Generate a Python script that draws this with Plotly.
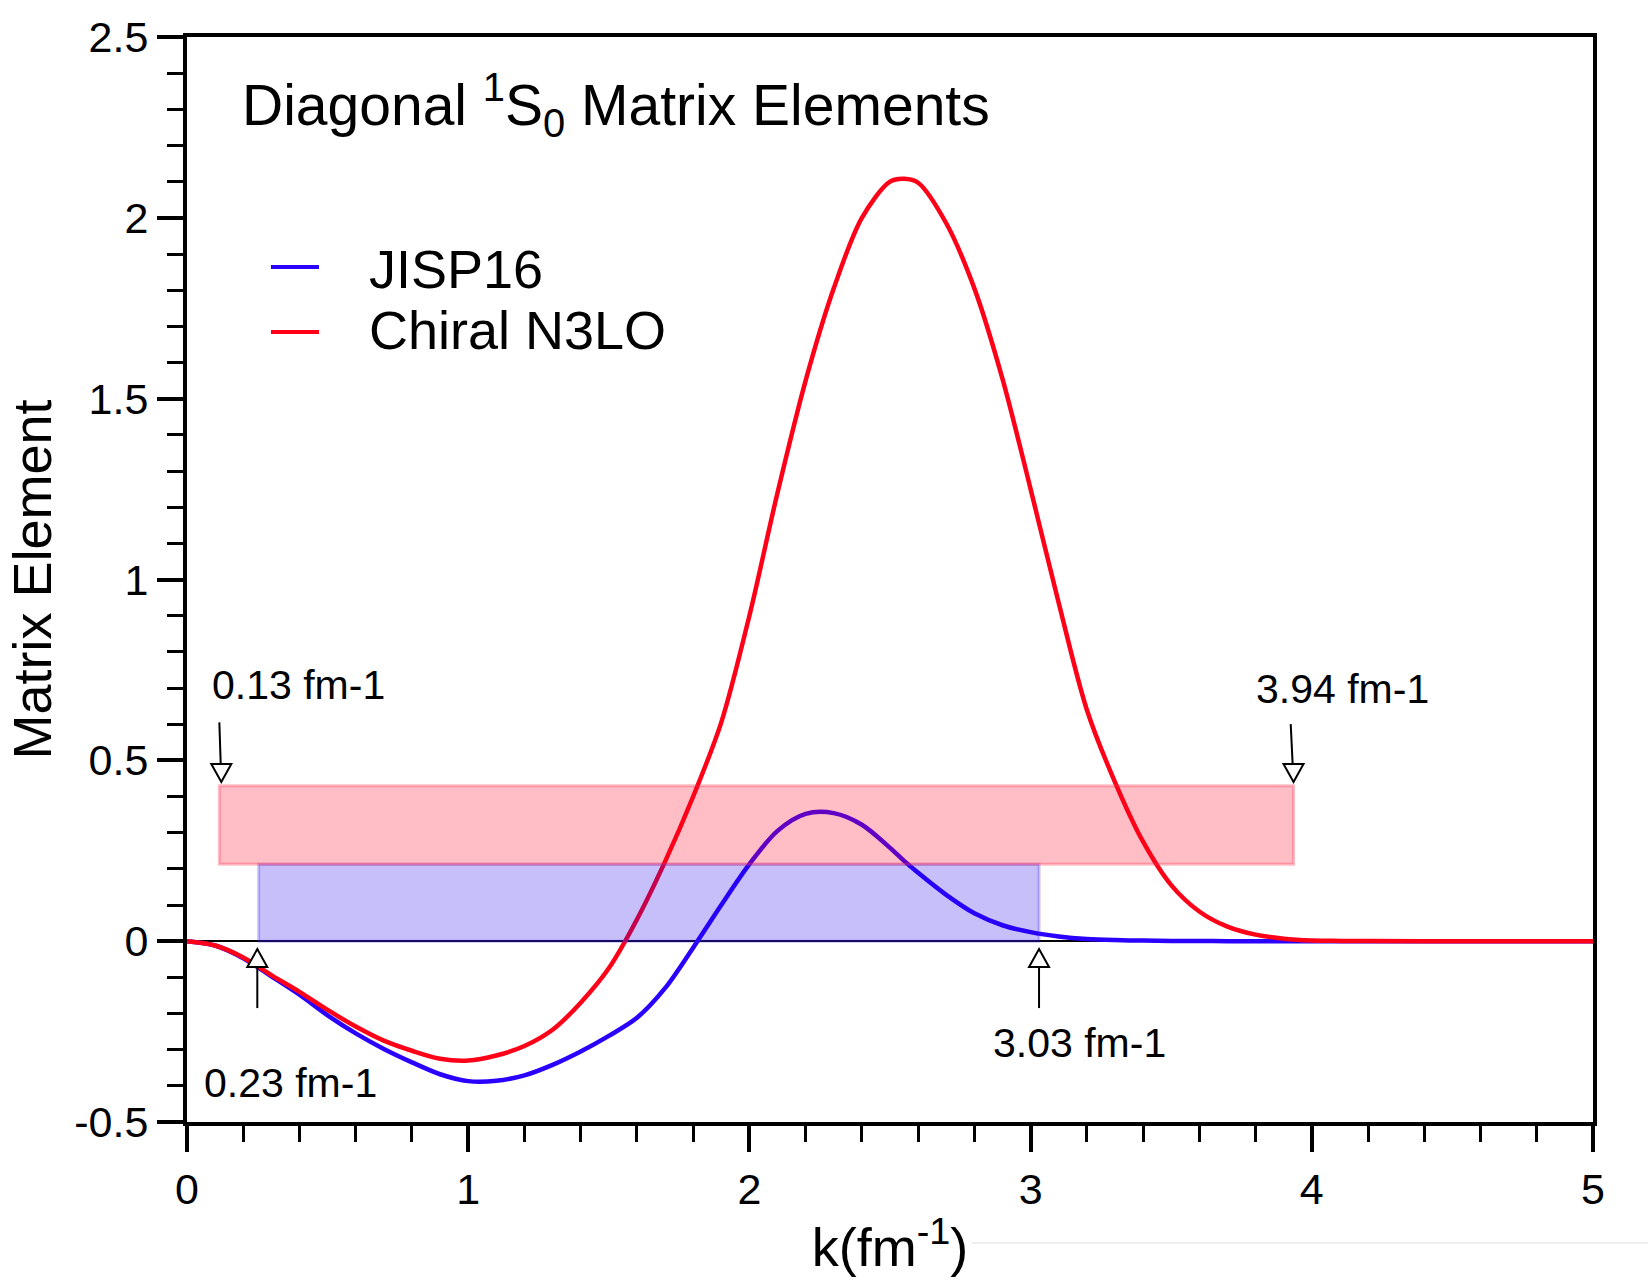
import plotly.graph_objects as go

# ---------------- data ----------------
k_vals = [0.0, 0.1, 0.2, 0.3, 0.4, 0.5, 0.6, 0.7, 0.8, 0.9, 1.0, 1.1, 1.2, 1.3, 1.4,
          1.5, 1.6, 1.7, 1.8, 1.9, 2.0, 2.1, 2.2, 2.3, 2.4, 2.5, 2.55, 2.6, 2.7, 2.8,
          2.9, 3.0, 3.1, 3.2, 3.3, 3.4, 3.5, 3.6, 3.7, 3.8, 3.9, 4.0, 4.1, 4.2, 4.5, 5.0]

jisp16 = [0.0, -0.012, -0.047, -0.097, -0.148, -0.205, -0.255, -0.298, -0.335, -0.368,
          -0.387, -0.386, -0.371, -0.342, -0.305, -0.262, -0.212, -0.130, -0.018, 0.100,
          0.213, 0.305, 0.352, 0.354, 0.322, 0.258, 0.222, 0.189, 0.128, 0.077,
          0.044, 0.025, 0.013, 0.006, 0.003, 0.0015, 0.0007, 0.0003, 0.0001, 0.0, 0.0,
          0.0, 0.0, 0.0, 0.0, 0.0]

chiral_n3lo = [0.0, -0.012, -0.045, -0.094, -0.140, -0.190, -0.236, -0.275, -0.303, -0.325,
               -0.330, -0.316, -0.290, -0.245, -0.170, -0.075, 0.060, 0.220, 0.400, 0.605,
               0.900, 1.240, 1.550, 1.805, 2.000, 2.100, 2.108, 2.097, 1.985, 1.805,
               1.555, 1.250, 0.935, 0.640, 0.440, 0.275, 0.155, 0.082, 0.040, 0.018, 0.007,
               0.002, 0.0007, 0.0002, 0.0, 0.0]

series_names = ["JISP16", "Chiral N3LO"]
series_colors = ["#2a00ff", "#ff0018"]

# range boxes: [k_start, k_end, v_bottom, v_top]
box_k0 = [0.255, 0.115]
box_k1 = [3.03, 3.935]
box_v0 = [0.0, 0.213]
box_v1 = [0.213, 0.43]
box_fill = ["rgba(30,0,230,0.25)", "rgba(255,0,30,0.26)"]
box_line = ["rgba(60,40,255,0.28)", "rgba(255,40,70,0.30)"]

# arrows: tail (k, v) -> tip (k, v)
arrow_tail_k = [0.115, 3.925, 0.25, 3.03]
arrow_tail_v = [0.605, 0.60, -0.185, -0.185]
arrow_tip_k = [0.122, 3.935, 0.25, 3.03]
arrow_tip_v = [0.44, 0.44, -0.022, -0.022]
arrow_dir = [-1, -1, 1, 1]  # -1 = pointing down, 1 = pointing up

label_texts = ["0.13 fm-1", "3.94 fm-1", "0.23 fm-1", "3.03 fm-1"]
label_k = [0.395, 4.11, 0.367, 3.175]
label_v = [0.708, 0.698, -0.392, -0.282]

y_tickvals = [-0.5, 0, 0.5, 1, 1.5, 2, 2.5]
y_ticktext = ["-0.5", "0", "0.5", "1", "1.5", "2", "2.5"]
x_tickvals = [0, 1, 2, 3, 4, 5]
x_ticktext = ["0", "1", "2", "3", "4", "5"]

FONT = "Liberation Sans, Arial, Helvetica, sans-serif"

fig = go.Figure()
for name, vals, col in zip(series_names, [jisp16, chiral_n3lo], series_colors):
    fig.add_trace(go.Scatter(x=k_vals, y=vals, mode="lines", name=name,
                             line=dict(color=col, width=4.5, shape="spline", smoothing=0.9),
                             showlegend=False, hoverinfo="skip"))

shapes = []
for x0, x1, y0, y1, fc, lc in zip(box_k0, box_k1, box_v0, box_v1, box_fill, box_line):
    shapes.append(dict(type="rect", xref="x", yref="y", x0=x0, x1=x1, y0=y0, y1=y1,
                       fillcolor=fc, line=dict(color=lc, width=3), layer="above"))

for tk, tv, hk, hv, d in zip(arrow_tail_k, arrow_tail_v, arrow_tip_k, arrow_tip_v, arrow_dir):
    shapes.append(dict(type="line", xref="x", yref="y", x0=tk, y0=tv, x1=hk, y1=hv,
                       line=dict(color="black", width=2), layer="above"))
    # open triangular head, sized in pixels around the tip
    if d < 0:
        path = "M-10,18 L10,18 L0,0 Z"
    else:
        path = "M-10,-18 L10,-18 L0,0 Z"
    shapes.append(dict(type="path", xref="x", yref="y", xsizemode="pixel", ysizemode="pixel",
                       xanchor=hk, yanchor=hv, path=path, fillcolor="white",
                       line=dict(color="black", width=2), layer="above"))

# legend sample lines
legend_y = [0.788, 0.728]
for yy, col in zip(legend_y, series_colors):
    shapes.append(dict(type="line", xref="paper", yref="paper", x0=0.0597, x1=0.0939,
                       y0=yy, y1=yy, line=dict(color=col, width=4)))

# faint artifact line at bottom right
shapes.append(dict(type="line", xref="paper", yref="paper", x0=0.558, x1=1.04,
                   y0=-0.1115, y1=-0.1115, line=dict(color="#dddddd", width=1)))

annotations = []
for t, kk, vv in zip(label_texts, label_k, label_v):
    annotations.append(dict(text=t, x=kk, y=vv, xref="x", yref="y", showarrow=False,
                            font=dict(family=FONT, size=41, color="black"),
                            xanchor="center", yanchor="middle"))
legend_text_y = [0.786, 0.730]
for name, yy in zip(series_names, legend_text_y):
    annotations.append(dict(text=name, x=0.128, y=yy, xref="paper", yref="paper",
                            showarrow=False, xanchor="left", yanchor="middle",
                            font=dict(family=FONT, size=54, color="black")))
annotations.append(dict(text="Diagonal <sup>1</sup>S<sub>0</sub> Matrix Elements",
                        x=0.038, y=0.937, xref="paper", yref="paper", showarrow=False,
                        xanchor="left", yanchor="middle",
                        font=dict(family=FONT, size=57, color="black")))

fig.update_layout(
    width=1648, height=1280,
    margin=dict(l=187, r=55, t=37, b=158),
    paper_bgcolor="white", plot_bgcolor="white",
    shapes=shapes, annotations=annotations,
    showlegend=False,
    font=dict(family=FONT, color="black"),
)

fig.update_xaxes(
    range=[0, 5], showgrid=False, zeroline=False,
    showline=True, linecolor="black", linewidth=4, mirror=True,
    ticks="outside", ticklen=26, tickwidth=4, tickcolor="black",
    tickvals=x_tickvals, ticktext=x_ticktext,
    tickfont=dict(family=FONT, size=43, color="black"),
    minor=dict(dtick=0.2, tick0=0, ticks="outside", ticklen=16, tickwidth=3, tickcolor="black"),
    title=dict(text="k(fm<sup>-1</sup>)", font=dict(family=FONT, size=54, color="black"),
               standoff=18),
)
fig.update_yaxes(
    range=[-0.5, 2.5], showgrid=False,
    zeroline=True, zerolinecolor="black", zerolinewidth=2,
    showline=True, linecolor="black", linewidth=4, mirror=True,
    ticks="outside", ticklen=26, tickwidth=4, tickcolor="black",
    tickvals=y_tickvals, ticktext=y_ticktext,
    tickfont=dict(family=FONT, size=43, color="black"),
    minor=dict(dtick=0.1, tick0=0, ticks="outside", ticklen=16, tickwidth=3, tickcolor="black"),
    title=dict(text="Matrix Element", font=dict(family=FONT, size=54, color="black"),
               standoff=6),
)

fig.write_html("out.html")
